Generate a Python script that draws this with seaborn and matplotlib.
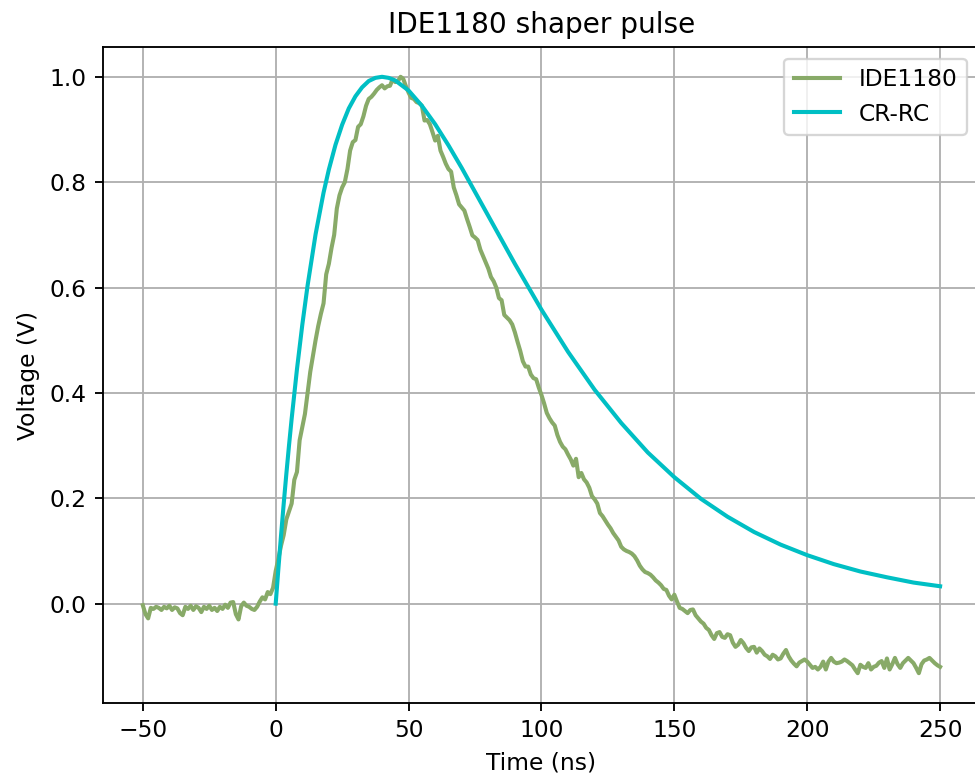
import numpy as np
import pandas as pd
import seaborn as sns
import matplotlib.pyplot as plt

# measured IDE1180 pulse, one sample per ns from -50 to 250 ns
time_ns = np.arange(-50, 251)

ide_baseline = [  # -50 .. -1
    -0.003, -0.020, -0.028, -0.008, -0.010, -0.006, -0.008, -0.012, -0.006, -0.009,
    -0.004, -0.012, -0.007, -0.009, -0.018, -0.022, -0.006, -0.010, -0.004, -0.012,
    -0.005, -0.008, -0.016, -0.006, -0.010, -0.004, -0.012, -0.008, -0.014, -0.006,
    -0.010, -0.002, -0.008, 0.002, 0.003, -0.020, -0.030, -0.005, 0.002, -0.004,
    -0.006, -0.010, -0.012, -0.006, 0.004, 0.012, 0.008, 0.022, 0.018, 0.030,
]
ide_rise = [  # 0 .. 49
    0.062, 0.085, 0.110, 0.130, 0.160, 0.175, 0.190, 0.235, 0.250, 0.310,
    0.335, 0.360, 0.400, 0.440, 0.470, 0.500, 0.527, 0.550, 0.570, 0.625,
    0.645, 0.675, 0.700, 0.750, 0.775, 0.790, 0.800, 0.825, 0.860, 0.876,
    0.880, 0.905, 0.910, 0.925, 0.945, 0.958, 0.962, 0.968, 0.975, 0.980,
    0.984, 0.978, 0.982, 0.983, 0.995, 0.990, 0.992, 1.000, 0.996, 0.982,
]
ide_fall = [  # 50 .. 149
    0.970, 0.960, 0.958, 0.952, 0.950, 0.945, 0.917, 0.918, 0.910, 0.895,
    0.879, 0.888, 0.860, 0.848, 0.835, 0.825, 0.820, 0.790, 0.775, 0.758,
    0.752, 0.746, 0.730, 0.715, 0.699, 0.695, 0.690, 0.672, 0.660, 0.648,
    0.636, 0.620, 0.612, 0.600, 0.580, 0.576, 0.548, 0.543, 0.538, 0.530,
    0.515, 0.497, 0.480, 0.460, 0.450, 0.450, 0.435, 0.428, 0.426, 0.410,
    0.396, 0.380, 0.362, 0.352, 0.344, 0.338, 0.320, 0.307, 0.298, 0.293,
    0.283, 0.274, 0.262, 0.275, 0.240, 0.248, 0.236, 0.230, 0.220, 0.204,
    0.198, 0.190, 0.172, 0.166, 0.158, 0.150, 0.143, 0.134, 0.127, 0.120,
    0.108, 0.103, 0.100, 0.098, 0.095, 0.090, 0.082, 0.072, 0.065, 0.060,
    0.058, 0.055, 0.050, 0.044, 0.040, 0.035, 0.028, 0.026, 0.015, 0.008,
]
ide_tail = [  # 150 .. 250
    0.017, 0.004, -0.008, -0.010, -0.014, -0.018, -0.012, -0.011, -0.022, -0.028,
    -0.034, -0.038, -0.046, -0.050, -0.060, -0.067, -0.056, -0.054, -0.063, -0.065,
    -0.058, -0.060, -0.074, -0.082, -0.078, -0.069, -0.075, -0.084, -0.090, -0.083,
    -0.082, -0.093, -0.085, -0.090, -0.097, -0.100, -0.105, -0.097, -0.100, -0.106,
    -0.104, -0.095, -0.088, -0.100, -0.108, -0.114, -0.119, -0.112, -0.109, -0.106,
    -0.110, -0.116, -0.122, -0.120, -0.125, -0.120, -0.110, -0.125, -0.110, -0.103,
    -0.110, -0.113, -0.112, -0.110, -0.106, -0.109, -0.113, -0.117, -0.125, -0.132,
    -0.116, -0.120, -0.122, -0.113, -0.125, -0.120, -0.118, -0.112, -0.109, -0.122,
    -0.104, -0.125, -0.115, -0.103, -0.115, -0.122, -0.113, -0.108, -0.103, -0.108,
    -0.113, -0.122, -0.132, -0.115, -0.108, -0.106, -0.103, -0.108, -0.113, -0.117,
    -0.120,
]
ide_volts = ide_baseline + ide_rise + ide_fall + ide_tail

# CR-RC shaper response
crrc_time = [0, 1, 2, 3, 4, 5, 6, 8, 10, 12, 15, 18, 20, 22.5, 25, 27.5, 30, 32.5,
             35, 37.5, 40, 42.5, 45, 50, 55, 60, 65, 70, 80, 90, 100, 110, 120,
             130, 140, 150, 160, 170, 180, 190, 200, 210, 220, 230, 240, 250]
crrc_volts = [0.0, 0.066, 0.129, 0.189, 0.246, 0.300, 0.351, 0.445, 0.529, 0.604,
              0.701, 0.780, 0.824, 0.871, 0.909, 0.940, 0.963, 0.980, 0.992, 0.998,
              1.000, 0.998, 0.993, 0.974, 0.945, 0.910, 0.870, 0.827, 0.736, 0.645,
              0.558, 0.478, 0.406, 0.343, 0.287, 0.240, 0.199, 0.165, 0.136, 0.112,
              0.092, 0.075, 0.061, 0.050, 0.040, 0.033]

ide_df = pd.DataFrame({'time': time_ns, 'volts': ide_volts})
crrc_df = pd.DataFrame({'time': crrc_time, 'volts': crrc_volts})

dpi = 168
fig = plt.figure(figsize=(975 / dpi, 778 / dpi), dpi=dpi)
# the original is cropped just before the right spine
ax = fig.add_axes([0.1056, 0.0964, 0.8995, 0.8432])

sns.lineplot(data=ide_df, x='time', y='volts', ax=ax, color='#88aa68',
             linewidth=1.75, label='IDE1180', errorbar=None)
sns.lineplot(data=crrc_df, x='time', y='volts', ax=ax, color='#00bfc4',
             linewidth=1.75, label='CR-RC', errorbar=None)

ax.grid(True, color='#b0b0b0', linewidth=0.8)
ax.set_axisbelow(True)
ax.spines['right'].set_visible(False)
ax.set_xlim(-65, 265)
ax.set_xticks([-50, 0, 50, 100, 150, 200, 250])
ax.set_yticks([0.0, 0.2, 0.4, 0.6, 0.8, 1.0])
ax.set_xlabel('Time (ns)')
ax.set_ylabel('Voltage (V)')
ax.set_title('IDE1180 shaper pulse')
ax.legend(loc='upper right', bbox_to_anchor=(0.9985, 1.0))

fig.savefig('out.png', dpi=dpi)
